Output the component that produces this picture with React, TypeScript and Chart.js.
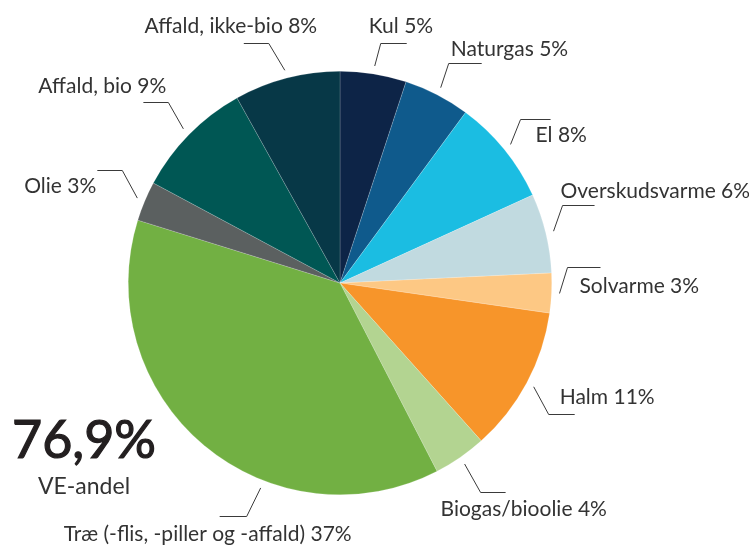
import React, { useEffect, useRef } from "react";
import { Chart, registerables } from "chart.js";

Chart.register(...registerables);

// ---- data ----
const categories = [
  "Kul",
  "Naturgas",
  "El",
  "Overskudsvarme",
  "Solvarme",
  "Halm",
  "Biogas/bioolie",
  "Træ (-flis, -piller og -affald)",
  "Olie",
  "Affald, bio",
  "Affald, ikke-bio",
];
const shares = [5, 5, 8, 6, 3, 11, 4, 37, 3, 9, 8];
const sliceColors = [
  "#0d2447",
  "#0f5a8c",
  "#1bbde2",
  "#c1dae0",
  "#fdc884",
  "#f7952a",
  "#b3d491",
  "#72b043",
  "#5b6060",
  "#005754",
  "#073847",
];
const headline = "76,9%";
const subline = "VE-andel";

// ---- label placement (styling, relative to each slice's leader anchor) ----
type Leader = { frac: number; elbow: [number, number]; run: number; text: [number, number]; align: CanvasTextAlign };
const leaderLayout: Leader[] = [
  { frac: 0.5, elbow: [6, -23], run: 26, text: [-12, -17], align: "left" },
  { frac: 0.5, elbow: [8, -25], run: 33, text: [2, -14], align: "left" },
  { frac: 0.5, elbow: [10, -25], run: 30, text: [15, 16], align: "left" },
  { frac: 0.5, elbow: [9, -26], run: 32, text: [-2, -14], align: "left" },
  { frac: 0.5, elbow: [8, -26], run: 33, text: [12, 19], align: "left" },
  { frac: 0.5, elbow: [15, 27], run: 26, text: [11, -17], align: "left" },
  { frac: 0.5, elbow: [16, 28], run: 25, text: [-40, 17], align: "left" },
  { frac: 0.36, elbow: [-14, 28], run: -27, text: [-39, 18], align: "center" },
  { frac: 0.5, elbow: [-15, -28], run: -25, text: [-26, 16], align: "right" },
  { frac: 0.5, elbow: [-15, -27], run: -25, text: [-2, -16], align: "right" },
  { frac: 0.5, elbow: [-16, -27], run: -25, text: [-38, -17], align: "center" },
];

const FONT = "Lato, 'Open Sans', sans-serif";

const labelPlugin = {
  id: "leaderLabels",
  afterDraw(chart: any) {
    const ctx: CanvasRenderingContext2D = chart.ctx;
    const meta = chart.getDatasetMeta(0);
    ctx.save();
    ctx.strokeStyle = "#3a3a3a";
    ctx.lineWidth = 1;
    ctx.fillStyle = "#333333";
    ctx.font = `21px ${FONT}`;
    ctx.textBaseline = "middle";
    meta.data.forEach((arc: any, i: number) => {
      const p = arc.getProps(["x", "y", "startAngle", "endAngle", "outerRadius"], true);
      const L = leaderLayout[i];
      const a = p.startAngle + (p.endAngle - p.startAngle) * L.frac;
      const r = p.outerRadius + 8;
      const ax = p.x + Math.cos(a) * r;
      const ay = p.y + Math.sin(a) * r;
      const ex = ax + L.elbow[0];
      const ey = Math.round(ay + L.elbow[1]) + 0.5;
      ctx.beginPath();
      ctx.moveTo(ax, ay);
      ctx.lineTo(ex, ey);
      ctx.lineTo(ex + L.run, ey);
      ctx.stroke();
      ctx.textAlign = L.align;
      ctx.fillText(`${categories[i]} ${shares[i]}%`, ex + L.text[0], ey + L.text[1]);
    });
    // headline
    ctx.fillStyle = "#231f20";
    ctx.strokeStyle = "#231f20";
    ctx.lineWidth = 1.2;
    ctx.textAlign = "center";
    ctx.textBaseline = "alphabetic";
    ctx.font = `52px ${FONT}`;
    ctx.fillText(headline, 84, 458);
    ctx.strokeText(headline, 84, 458);
    ctx.fillStyle = "#333333";
    ctx.font = `23px ${FONT}`;
    ctx.fillText(subline, 84, 494);
    ctx.restore();
  },
};

export default function App() {
  const ref = useRef<HTMLCanvasElement | null>(null);
  useEffect(() => {
    if (!ref.current) return;
    const chart = new Chart(ref.current, {
      type: "pie",
      data: {
        labels: categories,
        datasets: [
          {
            data: shares,
            backgroundColor: sliceColors,
            borderColor: "rgba(255,255,255,0.35)",
            borderWidth: 0.5,
          },
        ],
      },
      options: {
        responsive: true,
        maintainAspectRatio: false,
        animation: false,
        layout: { padding: { left: 128, right: 197, top: 71, bottom: 51 } },
        plugins: {
          legend: { display: false },
          tooltip: { enabled: false },
        },
      },
      plugins: [labelPlugin],
    });
    return () => chart.destroy();
  }, []);
  return (
    <div style={{ position: "absolute", left: 0, top: 0, width: 749, height: 546, background: "#ffffff" }}>
      <canvas ref={ref} />
    </div>
  );
}
